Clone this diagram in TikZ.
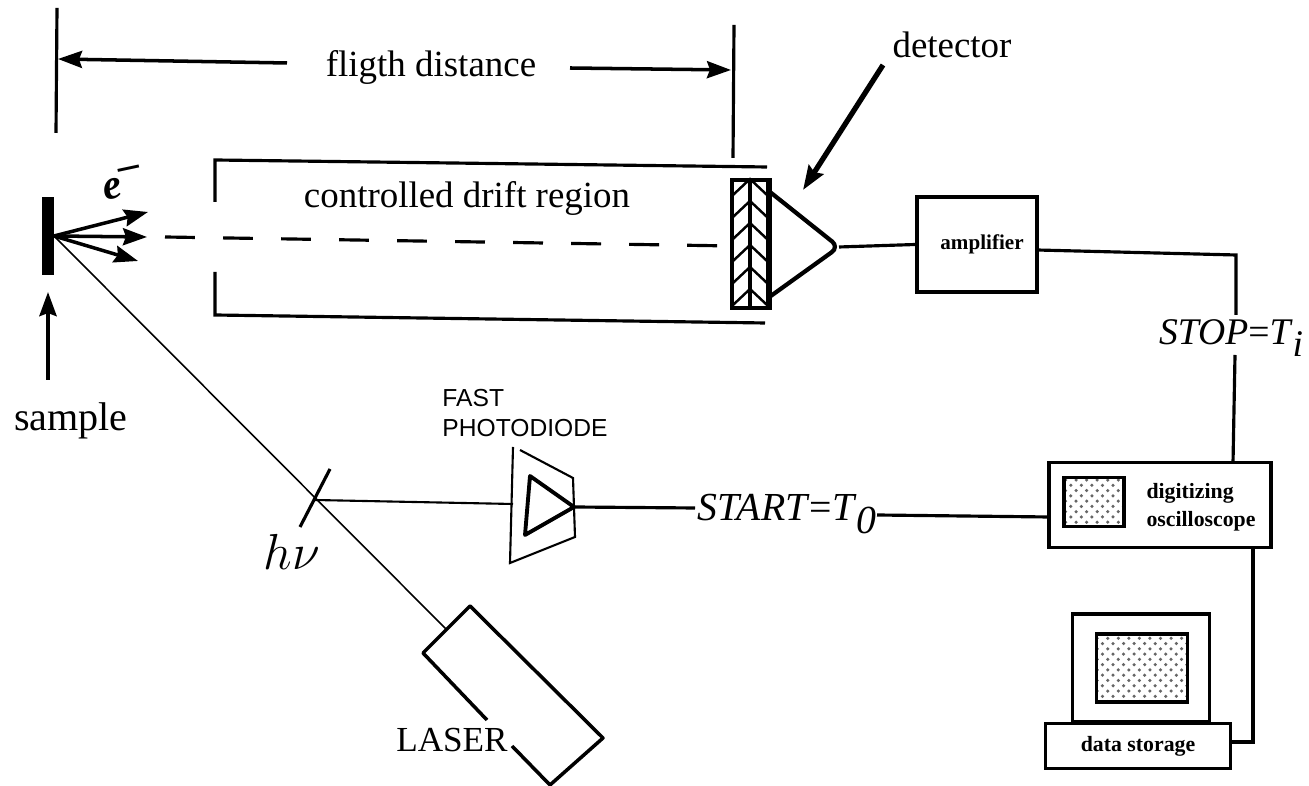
\documentclass[tikz,border=0pt]{standalone}
\usepackage{fontspec}
\setmainfont{Liberation Serif}
\setsansfont{Liberation Sans}
\usetikzlibrary{arrows.meta,patterns}
\newcommand{\smalltext}{\fontsize{6.2}{8}\selectfont\bfseries}
\newcommand{\maintext}{\fontsize{10.5}{12}\selectfont}
\tikzset{
    wire/.style={line width=.9pt},
    beam/.style={line width=.45pt},
    box/.style={draw,line width=.9pt,inner sep=0pt,align=center,font=\smalltext},
    label/.style={inner sep=0pt,font=\maintext},
    marker/.style={-{Stealth[length=.24cm,width=.17cm,inset=.03cm]},line width=1pt},
    dots/.style={draw,line width=1.1pt,pattern=crosshatch dots,pattern color=black!60}
}
\begin{document}
\begin{tikzpicture}[x=.01cm,y=-.01cm]
    \useasboundingbox (0,0) rectangle (1309,786);
    \node[fill,minimum width=.12cm,minimum height=.78cm,inner sep=0pt] (sample) at (48,236) {};
    \node[label,font=\fontsize{11.4}{13}\selectfont] (samplelabel) at (71,421) {sample};
    \node[label] (flight) at (431,67) {fligth distance};
    \node[label] (drift) at (467,198) {controlled drift region};
    \node[label] (detector) at (952,45) {detector};
    \node[label,font=\fontsize{10.7}{12}\selectfont] (stop) at (1232,338) {\textit{STOP}=\textit{T}$_{\textit{i}}$};
    \node[label,font=\fontsize{11.3}{13}\selectfont] (start) at (788,514) {\textit{START}=\textit{T}$_{\textit{0}}$};
    \node[label,font=\fontsize{10}{12}\selectfont] (laser) at (452,740) {LASER};
    \node[label,rotate=12,font=\fontsize{12}{14}\selectfont\bfseries] (electron) at (122,183) {\textit{e}\raisebox{.4em}{--}};
    \node[label,font=\fontsize{15}{18}\selectfont] (hnu) at (292,552) {$h\nu$};
    \node[inner sep=0pt,align=left,font=\sffamily\fontsize{7}{8.4}\selectfont] (photolabel) at (525,413) {FAST\\PHOTODIODE};

    % detector
    \node[draw,line width=1.1pt,minimum width=.36cm,minimum height=1.28cm,inner sep=0pt] (plate) at (750,244) {};
    \draw[wire,line width=1pt] (750,180) -- (750,308);
    \draw[wire,line width=1.4pt] (plate.north east) -- (plate.south east);
    \foreach \y in {185,207,229,251,273,295}
        \draw[line width=.7pt] (733,\y+10) -- (750,\y-6) -- (767,\y+10);
    \coordinate (dtop) at (770,192);
    \coordinate (dtip) at (839,247);
    \coordinate (dbot) at (768,298);
    \draw[line width=1.2pt,rounded corners=2.5pt] (dtop) -- (dtip) -- (dbot);

    % boxes
    \node[box,font=\fontsize{6}{8}\selectfont\bfseries,minimum width=1.20cm,minimum height=.95cm] (amplifier) at (977,244.5) {\hspace{.1cm}amplifier};
    \node[box,minimum width=2.22cm,minimum height=.85cm] (scope) at (1160,505) {};
    \node[dots,minimum width=.60cm,minimum height=.49cm,inner sep=0pt] (scopescreen) at (1094,502) {};
    \node[inner sep=0pt,align=left,font=\smalltext] (scopelabel) at (1201,507) {digitizing\\oscilloscope};
    \node[box,minimum width=1.37cm,minimum height=1.08cm] (monitor) at (1141,668) {};
    \node[dots,minimum width=.91cm,minimum height=.68cm,inner sep=0pt] (screen) at (1142,668) {};
    \node[box,minimum width=1.85cm,minimum height=.45cm] (storage) at (1138,746) {data storage};

    % drift region
    \draw[wire] (215,202) -- (215,160) -- (767,167);
    \draw[wire] (215,272) -- (215,315) -- (765,323);
    \coordinate (dashstart) at (165,237);
    \coordinate (dashend) at (733,246);
    \draw[wire,dash pattern=on 8.5pt off 8pt] (dashstart) -- (dashend);

    % sample
    \coordinate (emit) at (54,236);
    \coordinate (e1) at (148,212);
    \coordinate (e2) at (147,237);
    \coordinate (e3) at (138,261);
    \path[marker]
        (emit) edge (e1)
               edge (e2)
               edge (e3);
    \coordinate (samplearrow) at (48,380);
    \coordinate (sampletip) at (48,292);
    \draw[marker,line width=1.2pt] (samplearrow) -- (sampletip);

    % flight distance
    \coordinate (ltop) at (57,8);
    \coordinate (lbot) at (56,133);
    \coordinate (rtop) at (734,25);
    \coordinate (rbot) at (733,158);
    \draw[wire] (ltop) -- (lbot);
    \draw[wire] (rtop) -- (rbot);
    \coordinate (fl) at (287,63);
    \coordinate (flt) at (58,59);
    \coordinate (fr) at (570,68);
    \coordinate (frt) at (731,70);
    \draw[marker] (fl) -- (flt);
    \draw[marker] (fr) -- (frt);
    \coordinate (dstart) at (883,65);
    \coordinate (dend) at (803,190);
    \draw[marker,line width=1.5pt] (dstart) -- (dend);

    % laser
    \coordinate (beamend) at (447,630);
    \coordinate (lw) at (423,653);
    \coordinate (ln) at (470,606);
    \coordinate (le) at (603,738);
    \coordinate (ls) at (550,785);
    \draw[wire,line width=1pt,line join=round] (487,720) -- (lw) -- (ln) -- (le) -- (ls) -- (512,746);
    \draw[beam] (emit) -- (beamend);

    % photodiode
    \coordinate (pa) at (513,447);
    \coordinate (pb) at (510,563);
    \coordinate (pout) at (574,507);
    \coordinate (mirror) at (315,500);
    \coordinate (pin) at (513,504);
    \draw[wire] (330,469) -- (300,527);
    \draw[beam,line width=.6pt] (mirror) -- (pin);
    \draw[line width=.6pt] (pa) -- (pb) -- (575,537) -- (573,478) -- (520,450);
    \draw[line width=1.1pt,line join=round] (pout) -- (530,476) -- (525,535) -- cycle;

    % connectors
    \coordinate (startin) at (695,508);
    \coordinate (startout) at (877,515);
    \coordinate (scopein) at (1049,517);
    \path[wire]
        (dtip) edge (amplifier.west)
        (pout) edge (startin)
        (startout) edge (scopein);
    \coordinate (ampout) at (1037,250);
    \coordinate (cornerstop) at (1236,255);
    \coordinate (stopa) at (1236,315);
    \coordinate (stopb) at (1235,355);
    \coordinate (scopetop) at (1233,463);
    \draw[wire] (ampout) -- (cornerstop) -- (stopa);
    \draw[wire] (stopb) -- (scopetop);
    \coordinate (cornerstore) at (1253,742);
    \draw[wire] (scope.south -| cornerstore) -- (cornerstore) -- (storage.east |- cornerstore);
\end{tikzpicture}
\end{document}
